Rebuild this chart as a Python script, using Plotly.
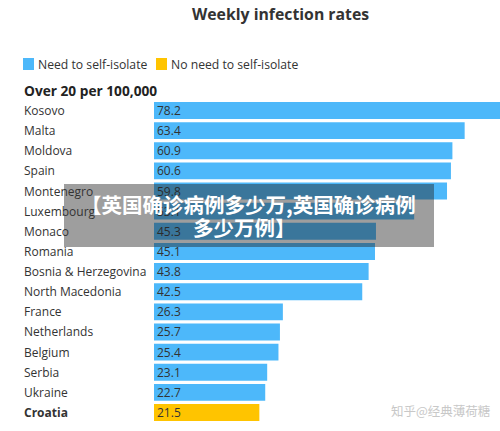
import plotly.graph_objects as go

countries = ["Kosovo", "Malta", "Moldova", "Spain", "Montenegro", "Luxembourg", "Monaco",
             "Romania", "Bosnia & Herzegovina", "North Macedonia", "France", "Netherlands",
             "Belgium", "Serbia", "Ukraine", "Croatia"]
rates = [78.2, 63.4, 60.9, 60.6, 59.8, 53.1, 45.3, 45.1, 43.8, 42.5, 26.3, 25.7, 25.4, 23.1, 22.7, 21.5]
isolate = [True] * 15 + [False]

BLUE = "#4DB8FA"
YELLOW = "#FFC400"
TXT = "#333333"

W, H = 500, 431
ML, MR, MT, MB = 154, 0, 100, 8
PW, PH = W - ML - MR, H - MT - MB


def xp(px):
    return (px - ML) / PW


def yp(py):
    return (H - MB - py) / PH


colors = [BLUE if f else YELLOW for f in isolate]

fig = go.Figure()
fig.add_trace(go.Bar(
    x=rates, y=countries, orientation="h",
    marker=dict(color=colors, line=dict(width=0)),
    width=0.84,
    text=[f"{v}" for v in rates],
    textposition="inside", insidetextanchor="start", textangle=0,
    constraintext="none",
    textfont=dict(family="Open Sans", size=12, color=TXT),
    hoverinfo="skip", showlegend=False,
))

ann = []
for c, f in zip(countries, isolate):
    ann.append(dict(xref="paper", yref="y", x=xp(22), y=c, xanchor="left", yanchor="middle",
                    text=(c if f else f"<b>{c}</b>"), showarrow=False,
                    font=dict(family="Open Sans", size=12, color=TXT)))

ann += [
    dict(xref="paper", yref="paper", x=xp(280), y=yp(14), xanchor="center", yanchor="middle",
         text="<b>Weekly infection rates</b>", showarrow=False,
         font=dict(family="Open Sans", size=15.8, color=TXT)),
    dict(xref="paper", yref="paper", x=xp(36), y=yp(64), xanchor="left", yanchor="middle",
         text="Need to self-isolate", showarrow=False,
         font=dict(family="Open Sans", size=12.2, color=TXT)),
    dict(xref="paper", yref="paper", x=xp(169), y=yp(64), xanchor="left", yanchor="middle",
         text="No need to self-isolate", showarrow=False,
         font=dict(family="Open Sans", size=12.2, color=TXT)),
    dict(xref="paper", yref="paper", x=xp(22), y=yp(90), xanchor="left", yanchor="middle",
         text="<b>Over 20 per 100,000</b>", showarrow=False,
         font=dict(family="Open Sans", size=13.7, color="#222222")),
    dict(xref="paper", yref="paper", x=xp(248), y=yp(204), xanchor="center", yanchor="middle",
         text="<b>【英国确诊病例多少万,英国确诊病例</b>", showarrow=False,
         font=dict(family="Noto Sans CJK SC", size=20.5, color="white")),
    dict(xref="paper", yref="paper", x=xp(244), y=yp(227), xanchor="center", yanchor="middle",
         text="<b>多少万例】</b>", showarrow=False,
         font=dict(family="Noto Sans CJK SC", size=20.5, color="white")),
    dict(xref="paper", yref="paper", x=xp(441), y=yp(410), xanchor="center", yanchor="middle",
         text="知乎@经典薄荷糖", showarrow=False,
         font=dict(family="Noto Sans CJK SC", size=12.5, color="#c8c8c8")),
]

shapes = [
    dict(type="rect", xref="paper", yref="paper", x0=xp(23), x1=xp(34), y0=yp(58), y1=yp(70),
         fillcolor=BLUE, line=dict(width=0)),
    dict(type="rect", xref="paper", yref="paper", x0=xp(156), x1=xp(167), y0=yp(58), y1=yp(70),
         fillcolor=YELLOW, line=dict(width=0)),
    dict(type="rect", xref="paper", yref="paper", x0=xp(64), x1=xp(434), y0=yp(247), y1=yp(184),
         fillcolor="rgba(34,34,34,0.44)", line=dict(width=0), layer="above"),
]

fig.update_layout(
    width=W, height=H,
    margin=dict(l=ML, r=MR, t=MT, b=MB, pad=0),
    paper_bgcolor="white", plot_bgcolor="white",
    xaxis=dict(range=[0, PW / 4.9], visible=False, fixedrange=True),
    yaxis=dict(categoryorder="array", categoryarray=countries, autorange="reversed",
               showticklabels=False, showgrid=False, zeroline=False, showline=False, ticks=""),
    bargap=0.16,
    annotations=ann, shapes=shapes,
    showlegend=False,
)

fig.write_html("out.html")
